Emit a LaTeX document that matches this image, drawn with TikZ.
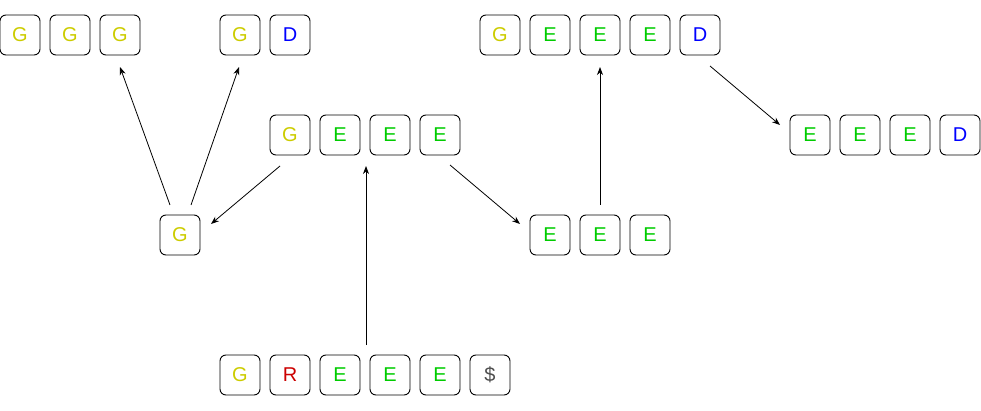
\documentclass[tikz,border=0pt]{standalone}
\usepackage{fontspec}
\setmainfont{Liberation Sans}
\usetikzlibrary{arrows.meta}
\definecolor{cG}{RGB}{204,204,0}
\definecolor{cE}{RGB}{0,204,0}
\definecolor{cD}{RGB}{0,0,255}
\definecolor{cR}{RGB}{204,0,0}
\definecolor{cS}{RGB}{77,77,77}
\tikzset{
  cell/.style={draw=black, line width=0.9pt, rounded corners=6pt, minimum size=40pt, inner sep=0pt,
    font=\fontsize{20}{24}\selectfont},
  gc/.style={cell, text=cG}, ec/.style={cell, text=cE}, dc/.style={cell, text=cD},
  rc/.style={cell, text=cR}, sc/.style={cell, text=cS},
  conn/.style={line width=0.8pt, -{Stealth[length=8pt,width=6pt,inset=2.5pt]}}
}
\begin{document}
\begin{tikzpicture}[x=1pt,y=-1pt]
\useasboundingbox (0,0) rectangle (981,411);
% top left
\node[gc] (t1) at (20,35) {G};
\node[gc] (t2) at (70,35) {G};
\node[gc] (t3) at (120,35) {G};
\node[gc] (t4) at (240,35) {G};
\node[dc] (t5) at (290,35) {D};
% top right
\node[gc] (u1) at (500,35) {G};
\node[ec] (u2) at (550,35) {E};
\node[ec] (u3) at (600,35) {E};
\node[ec] (u4) at (650,35) {E};
\node[dc] (u5) at (700,35) {D};
% middle row
\node[gc] (m1) at (290,135) {G};
\node[ec] (m2) at (340,135) {E};
\node[ec] (m3) at (390,135) {E};
\node[ec] (m4) at (440,135) {E};
% right row
\node[ec] (r1) at (810,135) {E};
\node[ec] (r2) at (860,135) {E};
\node[ec] (r3) at (910,135) {E};
\node[dc] (r4) at (960,135) {D};
% single G
\node[gc] (s1) at (180,235) {G};
% EEE
\node[ec] (e1) at (550,235) {E};
\node[ec] (e2) at (600,235) {E};
\node[ec] (e3) at (650,235) {E};
% bottom
\node[gc] (b1) at (240,375) {G};
\node[rc] (b2) at (290,375) {R};
\node[ec] (b3) at (340,375) {E};
\node[ec] (b4) at (390,375) {E};
\node[ec] (b5) at (440,375) {E};
\node[sc] (b6) at (490,375) {\$};
% connector endpoints
\coordinate (p1s) at (366,345); \coordinate (p1e) at (366,166);
\coordinate (p2s) at (280,166); \coordinate (p2e) at (211,224);
\coordinate (p3s) at (170,205); \coordinate (p3e) at (120,67);
\coordinate (p4s) at (191,205); \coordinate (p4e) at (239,67);
\coordinate (p5s) at (450,165); \coordinate (p5e) at (520,224);
\coordinate (p6s) at (600,205); \coordinate (p6e) at (600,67);
\coordinate (p7s) at (710,66);  \coordinate (p7e) at (780,125);
\draw[conn] (p1s) -- (p1e);
\draw[conn] (p2s) -- (p2e);
\draw[conn] (p3s) -- (p3e);
\draw[conn] (p4s) -- (p4e);
\draw[conn] (p5s) -- (p5e);
\draw[conn] (p6s) -- (p6e);
\draw[conn] (p7s) -- (p7e);
\end{tikzpicture}
\end{document}
